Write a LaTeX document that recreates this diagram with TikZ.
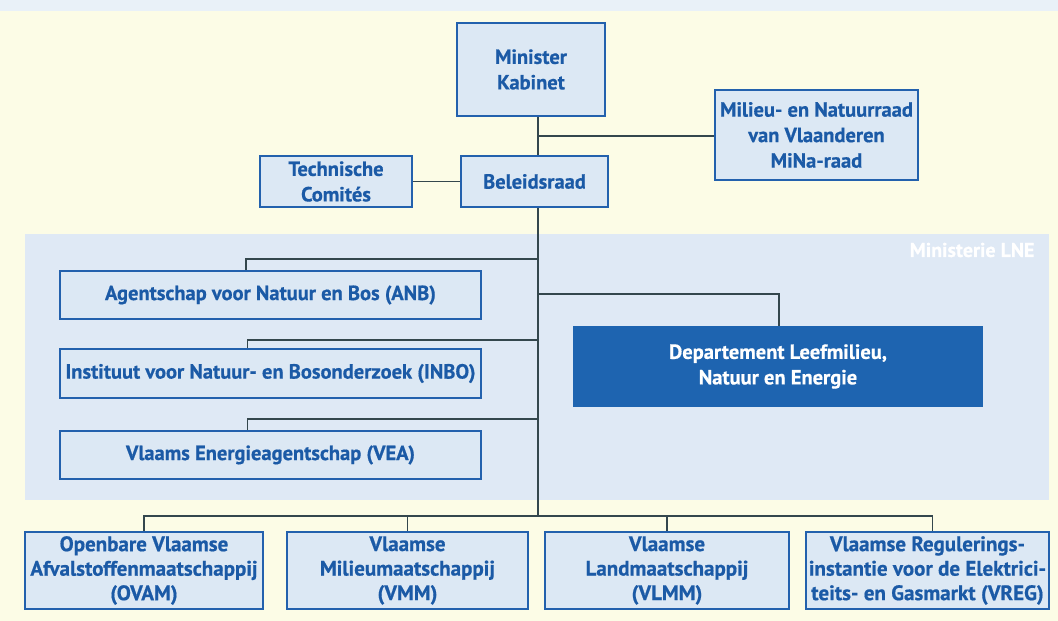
\documentclass[tikz,border=0pt]{standalone}
\usepackage{fontspec}
\setmainfont{PT Sans}[BoldFeatures={FakeBold=0.6}]
\definecolor{cream}{HTML}{FCFCE6}
\definecolor{topstrip}{HTML}{E9F1F8}
\definecolor{regionfill}{HTML}{DFE9F5}
\definecolor{boxfill}{HTML}{DCE8F4}
\definecolor{boxline}{HTML}{2361AD}
\definecolor{txtblue}{HTML}{1B5AA6}
\definecolor{depfill}{HTML}{1E64B0}
\definecolor{conn}{HTML}{34474D}
\begin{document}
\begin{tikzpicture}[x=1pt,y=-1pt,
  orgbox/.style={draw=boxline, line width=2.6pt, fill=boxfill, text=txtblue,
    font=\fontsize{20.5}{25.5}\selectfont\bfseries, align=center, inner sep=0pt},
  lowbox/.style={orgbox, font=\fontsize{21}{24.5}\selectfont\bfseries},
  depbox/.style={fill=depfill, text=white,
    font=\fontsize{20.5}{25.5}\selectfont\bfseries, align=center, inner sep=0pt},
  link/.style={draw=conn, line width=1.2pt}]
\fill[cream] (0,0) rectangle (1058,621);
\fill[topstrip] (0,0) rectangle (1058,11);
\useasboundingbox (0,0) rectangle (1058,621);
% Ministerie LNE region
\fill[regionfill] (25,234) rectangle (1049,500);
\node[anchor=east, text=white, font=\fontsize{20}{24}\selectfont\bfseries] (lne) at (1038,250) {Ministerie LNE};
% nodes
\node[orgbox, minimum width=148pt, minimum height=93pt] (min) at (531,69.5) {Minister\\Kabinet};
\node[orgbox, minimum width=203pt, minimum height=90pt] (mina) at (816.5,135) {Milieu- en Natuurraad\\van Vlaanderen\\MiNa-raad};
\node[orgbox, minimum width=152pt, minimum height=51pt] (tech) at (336,181.5) {Technische\\Comités};
\node[orgbox, minimum width=147pt, minimum height=51pt] (bel) at (534.5,181.5) {Beleidsraad};
\node[orgbox, minimum width=421pt, minimum height=48pt] (anb) at (270.5,295) {Agentschap voor Natuur en Bos (ANB)};
\node[orgbox, minimum width=421pt, minimum height=49pt] (inbo) at (270.5,373.5) {Instituut voor Natuur- en Bosonderzoek (INBO)};
\node[orgbox, minimum width=421pt, minimum height=48pt] (vea) at (270.5,455) {Vlaams Energieagentschap (VEA)};
\node[depbox, minimum width=410pt, minimum height=81pt] (dep) at (778,366.5) {Departement Leefmilieu,\\Natuur en Energie};
\node[lowbox, minimum width=238pt, minimum height=77pt] (b1) at (144,570.5) {Openbare Vlaamse\\Afvalstoffenmaatschappij\\(OVAM)};
\node[lowbox, minimum width=241pt, minimum height=77pt] (b2) at (407.5,570.5) {Vlaamse\\Milieumaatschappij\\(VMM)};
\node[lowbox, minimum width=244pt, minimum height=77pt] (b3) at (667,570.5) {Vlaamse\\Landmaatschappij\\(VLMM)};
\node[lowbox, minimum width=243pt, minimum height=77pt] (b4) at (927.5,570.5) {Vlaamse Regulerings-\\instantie voor de Elektrici-\\teits- en Gasmarkt (VREG)};
% trunk junctions
\coordinate (tk) at (538,0);
\coordinate (jmina) at (538,136);
\coordinate (janb) at (538,259);
\coordinate (jdep) at (538,294);
\coordinate (jinbo) at (538,340);
\coordinate (jvea) at (538,419);
\coordinate (jbot) at (538,516);
% connectors
\path[link] (tk |- min.south) -- (tk |- bel.north);
\path[link] (jmina) -- (mina.west |- jmina);
\path[link] (tech.east) -- (bel.west);
\path[link] (tk |- bel.south) -- (jbot);
\path[link] (janb) -| ([xshift=-24.5pt]anb.north);
\path[link] (jinbo) -| ([xshift=-23pt]inbo.north);
\path[link] (jvea) -| ([xshift=-23pt]vea.north);
\path[link] (jdep) -| ([xshift=1pt]dep.north);
\path[link] (b1.north) |- (jbot);
\path[link] (b2.north) |- (jbot);
\path[link] (b3.north) |- (jbot);
\path[link] ([xshift=5pt]b4.north) |- (jbot);
\end{tikzpicture}
\end{document}
